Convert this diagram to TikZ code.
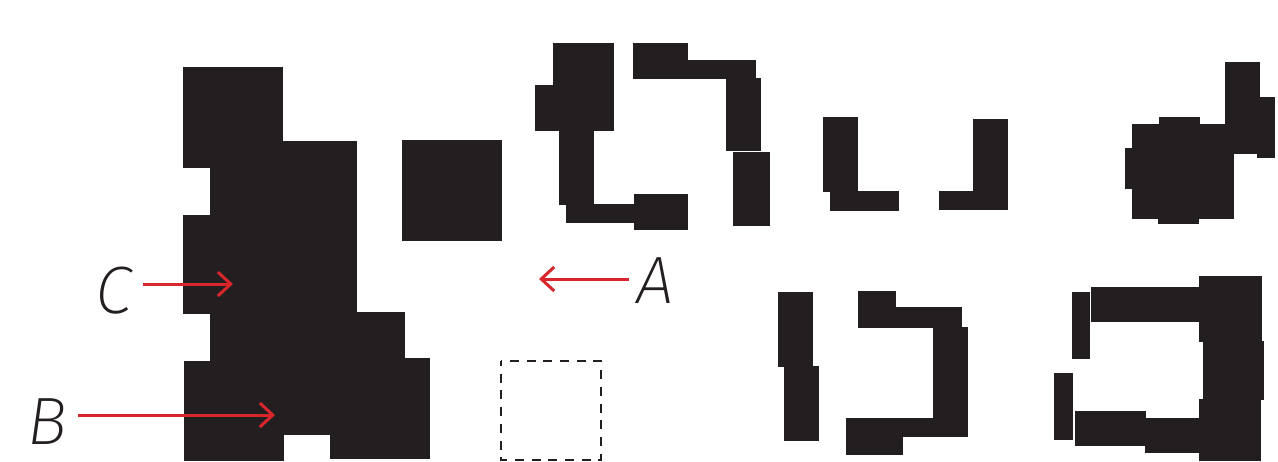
\documentclass[tikz,border=0pt]{standalone}
\usepackage{fontspec}
\newfontfamily\labfont{Fira Sans ExtraLight Italic}
\usetikzlibrary{arrows.meta}
\definecolor{ink}{HTML}{231F20}
\definecolor{redarrow}{HTML}{D7262C}
\tikzset{
  blk/.style={fill=ink, draw=none},
  redarr/.style={draw=redarrow, line width=3pt, -{Straight Barb[length=13pt,width=24pt,line width=3pt]}},
  lab/.style={font=\labfont\fontsize{67}{67}\selectfont, text=ink, inner sep=0pt, anchor=base},
  dashbox/.style={draw=ink, line width=1.5pt, dash pattern=on 9pt off 7.7pt, dash phase=4pt}
}
\begin{document}
\begin{tikzpicture}[x=1pt,y=-1pt]
\useasboundingbox (0,0) rectangle (1278,461);
% big left shape
\fill[blk] (183,67) rectangle (283,168);
\fill[blk] (210,141) rectangle (357,435);
\fill[blk] (183,215) rectangle (283,314);
\fill[blk] (210,312) rectangle (405,435);
\fill[blk] (330,358) rectangle (430,459);
\fill[blk] (184,361) rectangle (284,461);
% square
\fill[blk] (402,140) rectangle (502,241);
% dashed square
\draw[dashbox] (501,361) rectangle (601,460);
% top middle shape
\fill[blk] (553,43) rectangle (614,131);
\fill[blk] (535,85) rectangle (614,131);
\fill[blk] (559,130) rectangle (594,205);
\fill[blk] (566,204) rectangle (634,223);
\fill[blk] (634,194) rectangle (688,230);
\fill[blk] (633,43) rectangle (688,79);
\fill[blk] (688,60) rectangle (756,79);
\fill[blk] (726,78) rectangle (761,151);
\fill[blk] (733,152) rectangle (770,226);
% L and J
\fill[blk] (823,117) rectangle (858,192);
\fill[blk] (830,191) rectangle (899,211);
\fill[blk] (973,119) rectangle (1008,210);
\fill[blk] (939,191) rectangle (974,210);
% circle with flag
\fill[blk] (1132,124) rectangle (1234,219);
\fill[blk] (1159,117) rectangle (1200,125);
\fill[blk] (1125,148) rectangle (1133,189);
\fill[blk] (1158,218) rectangle (1199,224);
\fill[blk] (1225,62) rectangle (1260,154);
\fill[blk] (1257,97) rectangle (1275,158);
% lower middle bars
\fill[blk] (778,292) rectangle (813,367);
\fill[blk] (784,366) rectangle (819,441);
\fill[blk] (858,291) rectangle (896,328);
\fill[blk] (895,307) rectangle (962,328);
\fill[blk] (933,327) rectangle (968,437);
\fill[blk] (846,418) rectangle (968,437);
\fill[blk] (846,418) rectangle (903,455);
% lower right shape
\fill[blk] (1072,292) rectangle (1090,359);
\fill[blk] (1091,287) rectangle (1200,322);
\fill[blk] (1199,276) rectangle (1262,342);
\fill[blk] (1203,341) rectangle (1264,400);
\fill[blk] (1199,399) rectangle (1261,461);
\fill[blk] (1145,418) rectangle (1200,453);
\fill[blk] (1075,411) rectangle (1146,446);
\fill[blk] (1054,373) rectangle (1073,440);
% labels and arrows
\node[lab] (labA) at (655,303) {A};
\node[lab] (labB) at (47,444) {B};
\node[lab] (labC) at (114,313) {C};
\coordinate (Astart) at (629,279);
\coordinate (Atip) at (539,279);
\coordinate (Bstart) at (78,415);
\coordinate (Btip) at (275,415);
\coordinate (Cstart) at (143,284);
\coordinate (Ctip) at (233,284);
\draw[redarr] (Astart) -- (Atip);
\draw[redarr] (Bstart) -- (Btip);
\draw[redarr] (Cstart) -- (Ctip);
\end{tikzpicture}
\end{document}
